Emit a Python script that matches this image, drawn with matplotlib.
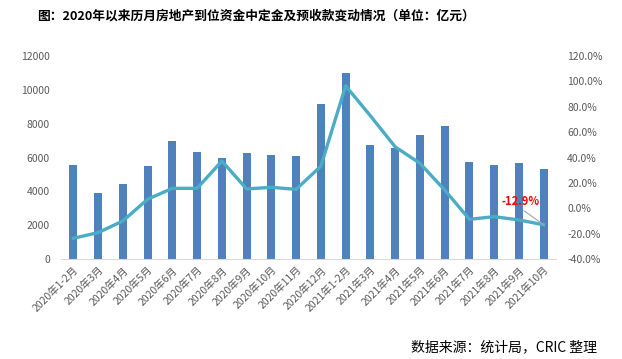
import matplotlib
matplotlib.use("Agg")
import matplotlib.pyplot as plt
from matplotlib.ticker import FuncFormatter
import numpy as np

plt.rcParams['font.family'] = ['Noto Sans CJK SC', 'DejaVu Sans']

# data
months = ["2020年1-2月", "2020年3月", "2020年4月", "2020年5月", "2020年6月",
          "2020年7月", "2020年8月", "2020年9月", "2020年10月", "2020年11月",
          "2020年12月", "2021年1-2月", "2021年3月", "2021年4月", "2021年5月",
          "2021年6月", "2021年7月", "2021年8月", "2021年9月", "2021年10月"]
amount = [5560, 3900, 4450, 5500, 7000, 6330, 5980, 6270, 6150, 6100,
          9170, 11000, 6750, 6570, 7340, 7870, 5740, 5570, 5680, 5330]
growth = [-23.5, -19.1, -9.9, 7.2, 15.8, 15.8, 37.3, 15.3, 16.6, 15.0,
          33.3, 96.5, 72.9, 48.5, 35.5, 14.5, -8.6, -6.5, -9.1, -12.9]

bar_color = '#4F81BD'
line_color = '#4BACC6'
tick_color = '#595959'

fig = plt.figure(figsize=(6.22, 3.59), dpi=100)
ax = fig.add_axes([0.098, 0.278, 0.796, 0.566])
x = np.arange(len(months))

ax.bar(x, amount, width=0.32, color=bar_color, zorder=2)
ax.set_xlim(-0.5, len(months) - 0.5)
ax.set_ylim(0, 12000)
ax.set_yticks(range(0, 12001, 2000))
ax.set_xticks(x)
ax.set_xticklabels(months, rotation=45, ha='right', rotation_mode='anchor')
ax.tick_params(axis='both', length=0, labelsize=7.5, colors=tick_color)
ax.tick_params(axis='x', pad=4)
ax.tick_params(axis='y', pad=8)
for s in ['top', 'right', 'left']:
    ax.spines[s].set_visible(False)
ax.spines['bottom'].set_color('#D9D9D9')

ax2 = ax.twinx()
ax2.plot(x, growth, color=line_color, lw=2.4, zorder=3, solid_joinstyle='round')
ax2.set_ylim(-40, 120)
ax2.set_yticks(range(-40, 121, 20))
ax2.yaxis.set_major_formatter(FuncFormatter(lambda v, p: '%.1f%%' % v))
ax2.tick_params(axis='y', length=0, labelsize=7.5, colors=tick_color, pad=8)
for s in ax2.spines.values():
    s.set_visible(False)

# label for the last point
ax2.annotate('%.1f%%' % growth[-1], xy=(x[-1], growth[-1]), xytext=(x[-1] - 0.95, 0.3),
             color='red', fontsize=8, fontweight='bold', ha='center', va='bottom',
             arrowprops=dict(arrowstyle='-', color='#A6A6A6', lw=0.8,
                             shrinkA=0, shrinkB=0,
                             relpos=(0.5, 0)))

fig.text(0.06, 0.955, '图：2020年以来历月房地产到位资金中定金及预收款变动情况（单位：亿元）',
         fontsize=9.2, fontweight='bold', ha='left', va='center')
fig.text(0.96, 0.033, '数据来源：统计局，CRIC 整理', fontsize=10, ha='right', va='center')

fig.savefig('out.png', dpi=100)
